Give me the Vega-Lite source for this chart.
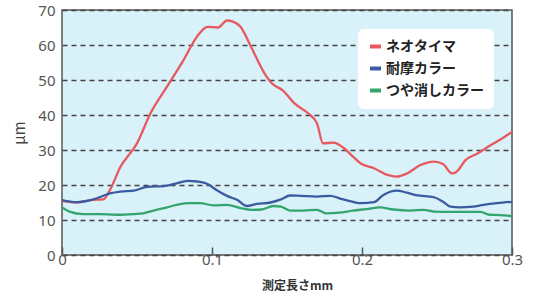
{
  "$schema": "https://vega.github.io/schema/vega-lite/v6.json",
  "width": 450,
  "height": 245,
  "autosize": "none",
  "padding": {"left": 62, "top": 10, "right": 30, "bottom": 48},
  "background": "white",
  "config": {
    "font": "Noto Sans CJK JP",
    "view": {"fill": "#d9f1f8", "stroke": "#555555", "strokeWidth": 1.5}
  },
  "datasets": {
    "d": [
      {"x": 0.0, "y": 15.4, "s": "ネオタイマ"},
      {"x": 0.0098, "y": 15.0, "s": "ネオタイマ"},
      {"x": 0.019, "y": 15.7, "s": "ネオタイマ"},
      {"x": 0.0276, "y": 15.9, "s": "ネオタイマ"},
      {"x": 0.032, "y": 18.6, "s": "ネオタイマ"},
      {"x": 0.039, "y": 25.2, "s": "ネオタイマ"},
      {"x": 0.05, "y": 31.9, "s": "ネオタイマ"},
      {"x": 0.059, "y": 40.5, "s": "ネオタイマ"},
      {"x": 0.07, "y": 48.1, "s": "ネオタイマ"},
      {"x": 0.081, "y": 55.7, "s": "ネオタイマ"},
      {"x": 0.09, "y": 62.4, "s": "ネオタイマ"},
      {"x": 0.097, "y": 65.2, "s": "ネオタイマ"},
      {"x": 0.104, "y": 65.0, "s": "ネオタイマ"},
      {"x": 0.11, "y": 67.0, "s": "ネオタイマ"},
      {"x": 0.114, "y": 66.7, "s": "ネオタイマ"},
      {"x": 0.119, "y": 65.2, "s": "ネオタイマ"},
      {"x": 0.126, "y": 59.5, "s": "ネオタイマ"},
      {"x": 0.135, "y": 51.9, "s": "ネオタイマ"},
      {"x": 0.14, "y": 49.0, "s": "ネオタイマ"},
      {"x": 0.147, "y": 47.1, "s": "ネオタイマ"},
      {"x": 0.155, "y": 43.3, "s": "ネオタイマ"},
      {"x": 0.164, "y": 40.5, "s": "ネオタイマ"},
      {"x": 0.17, "y": 37.6, "s": "ネオタイマ"},
      {"x": 0.174, "y": 31.9, "s": "ネオタイマ"},
      {"x": 0.181, "y": 32.1, "s": "ネオタイマ"},
      {"x": 0.188, "y": 30.5, "s": "ネオタイマ"},
      {"x": 0.194, "y": 28.1, "s": "ネオタイマ"},
      {"x": 0.199, "y": 26.2, "s": "ネオタイマ"},
      {"x": 0.208, "y": 24.8, "s": "ネオタイマ"},
      {"x": 0.217, "y": 22.9, "s": "ネオタイマ"},
      {"x": 0.223, "y": 22.4, "s": "ネオタイマ"},
      {"x": 0.23, "y": 23.3, "s": "ネオタイマ"},
      {"x": 0.239, "y": 25.7, "s": "ネオタイマ"},
      {"x": 0.248, "y": 26.7, "s": "ネオタイマ"},
      {"x": 0.254, "y": 26.0, "s": "ネオタイマ"},
      {"x": 0.26, "y": 23.3, "s": "ネオタイマ"},
      {"x": 0.263, "y": 23.8, "s": "ネオタイマ"},
      {"x": 0.269, "y": 27.1, "s": "ネオタイマ"},
      {"x": 0.277, "y": 29.0, "s": "ネオタイマ"},
      {"x": 0.286, "y": 31.4, "s": "ネオタイマ"},
      {"x": 0.292, "y": 32.9, "s": "ネオタイマ"},
      {"x": 0.3, "y": 35.2, "s": "ネオタイマ"},
      {"x": 0.0, "y": 15.7, "s": "耐摩カラー"},
      {"x": 0.0098, "y": 15.1, "s": "耐摩カラー"},
      {"x": 0.021, "y": 15.9, "s": "耐摩カラー"},
      {"x": 0.032, "y": 17.6, "s": "耐摩カラー"},
      {"x": 0.039, "y": 18.1, "s": "耐摩カラー"},
      {"x": 0.048, "y": 18.4, "s": "耐摩カラー"},
      {"x": 0.057, "y": 19.5, "s": "耐摩カラー"},
      {"x": 0.068, "y": 19.7, "s": "耐摩カラー"},
      {"x": 0.075, "y": 20.3, "s": "耐摩カラー"},
      {"x": 0.084, "y": 21.2, "s": "耐摩カラー"},
      {"x": 0.09, "y": 21.0, "s": "耐摩カラー"},
      {"x": 0.097, "y": 20.3, "s": "耐摩カラー"},
      {"x": 0.103, "y": 18.6, "s": "耐摩カラー"},
      {"x": 0.11, "y": 16.9, "s": "耐摩カラー"},
      {"x": 0.117, "y": 15.7, "s": "耐摩カラー"},
      {"x": 0.123, "y": 14.0, "s": "耐摩カラー"},
      {"x": 0.13, "y": 14.6, "s": "耐摩カラー"},
      {"x": 0.139, "y": 15.0, "s": "耐摩カラー"},
      {"x": 0.146, "y": 15.9, "s": "耐摩カラー"},
      {"x": 0.152, "y": 17.0, "s": "耐摩カラー"},
      {"x": 0.159, "y": 16.9, "s": "耐摩カラー"},
      {"x": 0.17, "y": 16.7, "s": "耐摩カラー"},
      {"x": 0.179, "y": 16.9, "s": "耐摩カラー"},
      {"x": 0.185, "y": 16.2, "s": "耐摩カラー"},
      {"x": 0.194, "y": 15.2, "s": "耐摩カラー"},
      {"x": 0.199, "y": 14.8, "s": "耐摩カラー"},
      {"x": 0.208, "y": 15.1, "s": "耐摩カラー"},
      {"x": 0.214, "y": 17.1, "s": "耐摩カラー"},
      {"x": 0.223, "y": 18.4, "s": "耐摩カラー"},
      {"x": 0.23, "y": 17.8, "s": "耐摩カラー"},
      {"x": 0.236, "y": 17.1, "s": "耐摩カラー"},
      {"x": 0.248, "y": 16.5, "s": "耐摩カラー"},
      {"x": 0.254, "y": 15.2, "s": "耐摩カラー"},
      {"x": 0.259, "y": 13.8, "s": "耐摩カラー"},
      {"x": 0.265, "y": 13.6, "s": "耐摩カラー"},
      {"x": 0.274, "y": 13.8, "s": "耐摩カラー"},
      {"x": 0.281, "y": 14.3, "s": "耐摩カラー"},
      {"x": 0.29, "y": 14.8, "s": "耐摩カラー"},
      {"x": 0.3, "y": 15.2, "s": "耐摩カラー"},
      {"x": 0.0, "y": 13.6, "s": "つや消しカラー"},
      {"x": 0.005, "y": 12.4, "s": "つや消しカラー"},
      {"x": 0.014, "y": 11.7, "s": "つや消しカラー"},
      {"x": 0.025, "y": 11.7, "s": "つや消しカラー"},
      {"x": 0.036, "y": 11.5, "s": "つや消しカラー"},
      {"x": 0.048, "y": 11.7, "s": "つや消しカラー"},
      {"x": 0.054, "y": 11.9, "s": "つや消しカラー"},
      {"x": 0.061, "y": 12.7, "s": "つや消しカラー"},
      {"x": 0.07, "y": 13.6, "s": "つや消しカラー"},
      {"x": 0.077, "y": 14.4, "s": "つや消しカラー"},
      {"x": 0.086, "y": 14.8, "s": "つや消しカラー"},
      {"x": 0.092, "y": 14.8, "s": "つや消しカラー"},
      {"x": 0.101, "y": 14.2, "s": "つや消しカラー"},
      {"x": 0.11, "y": 14.3, "s": "つや消しカラー"},
      {"x": 0.119, "y": 13.4, "s": "つや消しカラー"},
      {"x": 0.126, "y": 12.9, "s": "つや消しカラー"},
      {"x": 0.133, "y": 13.0, "s": "つや消しカラー"},
      {"x": 0.141, "y": 14.0, "s": "つや消しカラー"},
      {"x": 0.146, "y": 13.8, "s": "つや消しカラー"},
      {"x": 0.152, "y": 12.7, "s": "つや消しカラー"},
      {"x": 0.161, "y": 12.7, "s": "つや消しカラー"},
      {"x": 0.17, "y": 12.9, "s": "つや消しカラー"},
      {"x": 0.176, "y": 11.9, "s": "つや消しカラー"},
      {"x": 0.185, "y": 12.1, "s": "つや消しカラー"},
      {"x": 0.194, "y": 12.7, "s": "つや消しカラー"},
      {"x": 0.203, "y": 13.1, "s": "つや消しカラー"},
      {"x": 0.212, "y": 13.6, "s": "つや消しカラー"},
      {"x": 0.221, "y": 13.0, "s": "つや消しカラー"},
      {"x": 0.232, "y": 12.7, "s": "つや消しカラー"},
      {"x": 0.241, "y": 12.9, "s": "つや消しカラー"},
      {"x": 0.248, "y": 12.4, "s": "つや消しカラー"},
      {"x": 0.259, "y": 12.3, "s": "つや消しカラー"},
      {"x": 0.27, "y": 12.3, "s": "つや消しカラー"},
      {"x": 0.279, "y": 12.3, "s": "つや消しカラー"},
      {"x": 0.285, "y": 11.5, "s": "つや消しカラー"},
      {"x": 0.292, "y": 11.4, "s": "つや消しカラー"},
      {"x": 0.3, "y": 11.1, "s": "つや消しカラー"}
    ]
  },
  "data": {"name": "d"},
  "mark": {"type": "line", "interpolate": "monotone", "strokeWidth": 2.3, "clip": true},
  "encoding": {
    "x": {
      "field": "x", "type": "quantitative",
      "scale": {"domain": [0, 0.3], "nice": false, "zero": false},
      "axis": {
        "values": [0, 0.1, 0.2, 0.3], "format": "~g", "grid": false,
        "domain": false, "tickSize": -8, "tickColor": "#555555", "tickWidth": 1.5,
        "labelFontSize": 15, "labelColor": "#555555", "labelPadding": 5,
        "labelFont": "Noto Sans", "labelFlush": false,
        "title": "測定長さmm", "titleFontSize": 12, "titleFontWeight": "bold",
        "titleColor": "#333333", "titlePadding": 13, "titleX": 235
      }
    },
    "y": {
      "field": "y", "type": "quantitative",
      "scale": {"domain": [0, 70], "nice": false},
      "axis": {
        "values": [0, 10, 20, 30, 40, 50, 60, 70], "grid": true,
        "gridDash": [5, 4], "gridColor": "#444444", "gridWidth": 1.5,
        "domain": false, "ticks": false,
        "labelFontSize": 15, "labelColor": "#555555", "labelPadding": 7,
        "labelFont": "Noto Sans",
        "title": "μm", "titleFontSize": 15, "titleFontWeight": "normal",
        "titleColor": "#444444", "titlePadding": 10
      }
    },
    "color": {
      "field": "s", "type": "nominal",
      "scale": {
        "domain": ["ネオタイマ", "耐摩カラー", "つや消しカラー"],
        "range": ["#e8585f", "#3b5ba0", "#35a56e"]
      },
      "legend": {
        "title": null, "orient": "none", "legendX": 296, "legendY": 19,
        "fillColor": "white", "cornerRadius": 6, "padding": 10,
        "symbolType": "stroke", "symbolStrokeWidth": 4, "symbolSize": 120,
        "labelFontSize": 14, "labelFontWeight": "bold", "labelColor": "#222222",
        "rowPadding": 5, "labelOffset": 3
      }
    }
  }
}
